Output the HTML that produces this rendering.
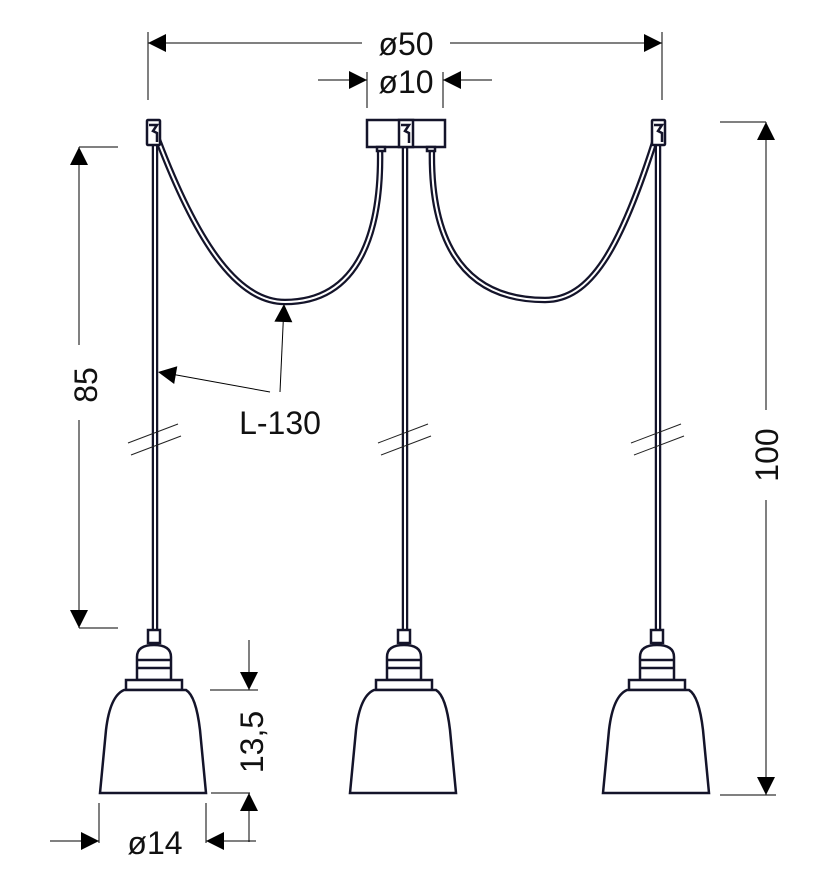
<!DOCTYPE html>
<html><head><meta charset="utf-8"><style>
html,body{margin:0;padding:0;background:#fff}
svg{display:block}
text{font-family:"Liberation Sans",Arial,sans-serif;fill:#111}
</style></head><body>
<svg width="828" height="886" viewBox="0 0 828 886" xmlns="http://www.w3.org/2000/svg">
<defs>
<g id="pend" stroke="#14142a" stroke-width="2.5" fill="#fff">
  <rect x="148" y="630" width="12" height="13"/>
  <path d="M137 680 L137 657 Q137 645 154 645 Q171 645 171 657 L171 680 Z"/>
  <line x1="137" y1="660" x2="171" y2="660"/>
  <line x1="137" y1="668" x2="171" y2="668"/>
  <rect x="126" y="680" width="56" height="10"/>
  <path d="M124 690 L186 690 Q196 696 200 730 L206 793 L100 793 L106 730 Q110 696 124 690 Z"/>
</g>
<g id="vcab">
  <line x1="155" y1="140" x2="155" y2="632" stroke="#14142a" stroke-width="6.5"/>
  <line x1="155" y1="140" x2="155" y2="632" stroke="#fff" stroke-width="2"/>
  <line x1="128" y1="443" x2="178" y2="424" stroke="#222" stroke-width="1"/>
  <line x1="131" y1="455" x2="181" y2="436" stroke="#222" stroke-width="1"/>
</g>
<path id="arr" d="M0 0 L-18 -9 L-18 9 Z" fill="#000"/>
</defs>

<g fill="none">
<path d="M158 140 C200 250 240 302 285 302 C360 302 382 230 380 147" stroke="#14142a" stroke-width="6.5"/>
<path d="M158 140 C200 250 240 302 285 302 C360 302 382 230 380 147" stroke="#fff" stroke-width="2"/>
<path d="M432 147 C430 230 455 300 545 300 C590 300 620 250 655 140" stroke="#14142a" stroke-width="6.5"/>
<path d="M432 147 C430 230 455 300 545 300 C590 300 620 250 655 140" stroke="#fff" stroke-width="2"/>
</g>

<use href="#vcab"/>
<use href="#vcab" transform="translate(250,0)"/>
<use href="#vcab" transform="translate(503,0)"/>

<g stroke="#14142a" stroke-width="2.5" fill="#fff">
  <rect x="147" y="120" width="13" height="25" rx="1"/>
  <path d="M149 125 L157 125 L153 131 L157 133 L157 142" fill="none"/>
  <rect x="652" y="120" width="13" height="25" rx="1"/>
  <path d="M654 125 L662 125 L658 131 L662 133 L662 142" fill="none"/>
  <rect x="367" y="120" width="78" height="27"/>
  <rect x="399" y="120" width="14" height="27"/>
  <path d="M401 125 L409 125 L405 131 L409 133 L409 143" fill="none"/>
  <rect x="377" y="147" width="8" height="4"/>
  <rect x="427" y="147" width="8" height="4"/>
</g>

<use href="#pend"/>
<use href="#pend" transform="translate(250,0)"/>
<use href="#pend" transform="translate(503,0)"/>

<g stroke="#000" stroke-width="1" fill="none">
  <line x1="148" y1="32" x2="148" y2="100"/>
  <line x1="662" y1="32" x2="662" y2="100"/>
  <line x1="148" y1="43" x2="362" y2="43"/>
  <line x1="450" y1="43" x2="662" y2="43"/>
  <line x1="367" y1="72" x2="367" y2="108"/>
  <line x1="443" y1="72" x2="443" y2="108"/>
  <line x1="318" y1="80" x2="367" y2="80"/>
  <line x1="443" y1="80" x2="492" y2="80"/>
  <line x1="79" y1="147" x2="118" y2="147"/>
  <line x1="79" y1="628" x2="118" y2="628"/>
  <line x1="79" y1="147" x2="79" y2="345"/>
  <line x1="79" y1="420" x2="79" y2="628"/>
  <line x1="720" y1="122" x2="766" y2="122"/>
  <line x1="720" y1="795" x2="776" y2="795"/>
  <line x1="766" y1="122" x2="766" y2="410"/>
  <line x1="766" y1="500" x2="766" y2="795"/>
  <line x1="210" y1="690" x2="258" y2="690"/>
  <line x1="249" y1="640" x2="249" y2="690"/>
  <line x1="211" y1="793" x2="250" y2="793"/>
  <line x1="249" y1="793" x2="249" y2="842"/>
  <line x1="99" y1="803" x2="99" y2="843"/>
  <line x1="206" y1="803" x2="206" y2="843"/>
  <line x1="50" y1="841" x2="99" y2="841"/>
  <line x1="206" y1="841" x2="256" y2="841"/>
  <line x1="270" y1="392" x2="160" y2="372"/>
  <line x1="280" y1="392" x2="284" y2="305"/>
</g>
<g>
  <use href="#arr" transform="translate(148,43) rotate(180)"/>
  <use href="#arr" transform="translate(662,43)"/>
  <use href="#arr" transform="translate(367,80)"/>
  <use href="#arr" transform="translate(443,80) rotate(180)"/>
  <use href="#arr" transform="translate(79,147) rotate(-90)"/>
  <use href="#arr" transform="translate(79,628) rotate(90)"/>
  <use href="#arr" transform="translate(766,122) rotate(-90)"/>
  <use href="#arr" transform="translate(766,795) rotate(90)"/>
  <use href="#arr" transform="translate(249,690) rotate(90)"/>
  <use href="#arr" transform="translate(249,793) rotate(-90)"/>
  <use href="#arr" transform="translate(99,841)"/>
  <use href="#arr" transform="translate(206,841) rotate(180)"/>
  <use href="#arr" transform="translate(158,372) rotate(190)"/>
  <use href="#arr" transform="translate(284,304) rotate(-88)"/>
</g>

<g font-size="32" text-anchor="middle">
  <text x="406" y="55">ø50</text>
  <text x="406" y="93">ø10</text>
  <text x="155" y="854">ø14</text>
  <text x="280" y="434">L-130</text>
  <text transform="translate(97,385) rotate(-90)">85</text>
  <text transform="translate(778,455) rotate(-90)">100</text>
  <text transform="translate(263,742) rotate(-90)">13,5</text>
</g>
</svg>
</body></html>
